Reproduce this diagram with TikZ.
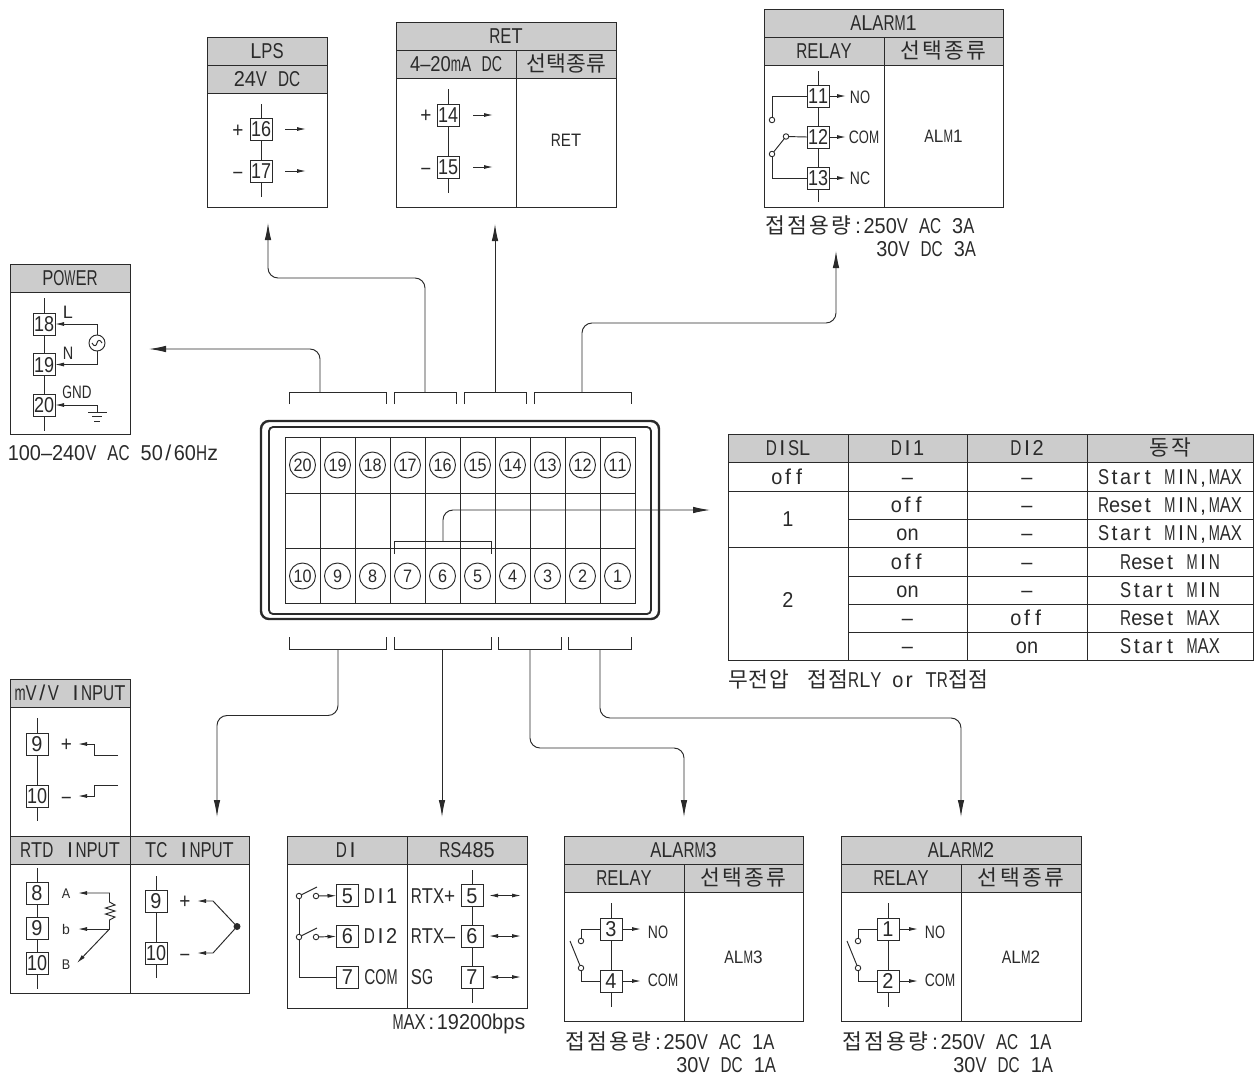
\documentclass[tikz,border=0pt]{standalone}
\usepackage{fontspec}
\usepackage{graphicx}
\usetikzlibrary{arrows.meta}
\setmainfont{Liberation Sans}
\newfontfamily\kr{Noto Sans CJK KR}
\definecolor{ink}{HTML}{2A2A2A}
\definecolor{head}{HTML}{CCCCCC}
\makeatletter
\newlength\mopitch
\newcommand\mono[2][.515]{\setlength\mopitch{#1em}\@tfor\mo@c:=#2\do{\mo@cell}}
\newcommand\mo@cell{\sbox0{\mo@c}\ifdim\wd0>\mopitch\resizebox{\mopitch}{\height}{\mo@c}\else\makebox[\mopitch][c]{\mo@c}\fi}
\newcommand\monoX[1]{\edef\mo@t{\noexpand\mono[.5]{#1}}\mo@t}
\makeatother
\newcommand\hang[2][1.03]{{\kr\mono[#1]{#2}}}
\newcommand\tnum[1]{\mono[.465]{#1}}
% \cell{style}{name}{x1}{y1}{x2}{y2}{text}
\newcommand\cell[7]{\node[#1,minimum width={((#5)-(#3))*1pt},minimum height={((#6)-(#4))*1pt}] (#2) at ({((#3)+(#5))/2},{((#4)+(#6))/2}) {#7};}
\tikzset{
 lbl/.style={inner sep=0pt,outer sep=0pt,text=ink,font=\fontsize{21.5}{24}\selectfont,text height=15.5pt,text depth=0pt},
 lbs/.style={lbl,font=\fontsize{18}{20}\selectfont,text height=13pt},
 lbt/.style={lbl,font=\fontsize{14}{16}\selectfont,text height=10pt},
 ln/.style={line width=.95pt,draw=ink},
 bodyc/.style={lbl,draw=ink,line width=.95pt,fill=white},
 bodys/.style={lbs,draw=ink,line width=.95pt,fill=white},
 hdrc/.style={bodyc,fill=head},
 term/.style={lbl,draw=ink,line width=.85pt,fill=white,minimum width=22pt,minimum height=22pt},
 sarrow/.style={ln,-{Latex[length=9pt,width=4pt]}},
 darrow/.style={ln,{Latex[length=9pt,width=4pt]}-{Latex[length=9pt,width=4pt]}},
 barrow/.style={ln,-{Latex[length=17pt,width=6.5pt]}},
 routed/.style={barrow,rounded corners=10pt},
 contact/.style={circle,draw=ink,line width=.9pt,fill=white,minimum size=5.5pt,inner sep=0pt,outer sep=0pt},
 numc/.style={lbs,circle,draw=ink,line width=.95pt,minimum size=26pt},
 brk/.style={ln},
}
\begin{document}
\begin{tikzpicture}[x=1pt,y=-1pt]
\useasboundingbox (0,0) rectangle (1257,1077);
\fill[white] (0,0) rectangle (1257,1077);

% ---------- POWER
\cell{bodyc}{pwrb}{10}{292}{130}{434}{}
\cell{hdrc}{pwrh}{10}{264}{130}{292}{\mono{POWER}}
\node[term] (p18) at (44,324) {\tnum{18}};
\node[term] (p19) at (44,364.5) {\tnum{19}};
\node[term] (p20) at (44,405) {\tnum{20}};
\coordinate (pt) at (44,298); \coordinate (pe) at (44,431);
\draw[ln] (pt) -- (p18) -- (p19) -- (p20) -- (pe);
\node[circle,draw=ink,line width=.95pt,minimum size=16pt,inner sep=0pt] (ac) at (97,343) {};
\draw[ln] ([xshift=-5pt]ac.center) .. controls ([xshift=-3pt,yshift=-4pt]ac.center) and ([xshift=-.5pt,yshift=-3pt]ac.center) .. (ac.center) .. controls ([xshift=.5pt,yshift=3pt]ac.center) and ([xshift=3pt,yshift=4pt]ac.center) .. ([xshift=5pt]ac.center);
\draw[sarrow] (ac.north) |- (p18.east);
\draw[sarrow] (ac.south) |- (p19.east);
\coordinate (gnd) at (97,412);
\draw[sarrow] (gnd) |- (p20.east);
\draw[ln] (88,412) -- (107,412) (92,416.5) -- (102,416.5) (94,421) -- (100,421);
\node[lbs] (lL) at (68,312) {\mono[.58]{L}};
\node[lbs] (lN) at (68,353) {\mono[.58]{N}};
\node[lbs] (lG) at (77,392) {\mono[.54]{GND}};
\node[lbl] (pwrv) at (113,453) {\mono{100–240V~AC~50/60Hz}};

% ---------- LPS
\cell{bodyc}{lpsb}{207}{93}{327}{207}{}
\cell{hdrc}{lpsh}{207}{37}{327}{65}{\mono{LPS}}
\cell{hdrc}{lpsh2}{207}{65}{327}{93}{\mono{24V~DC}}
\node[term] (l16) at (261,129) {\tnum{16}};
\node[term] (l17) at (261,171) {\tnum{17}};
\coordinate (lt) at (261,104); \coordinate (le) at (261,197);
\draw[ln] (lt) -- (l16) -- (l17) -- (le);
\node[lbl] (lp) at (238,130) {\mono{+}};
\node[lbl] (lm) at (238,171) {\mono[.42]{–}};
\draw[sarrow] ([xshift=13pt]l16.east) -- ++(21,0);
\draw[sarrow] ([xshift=13pt]l17.east) -- ++(21,0);

% ---------- RET
\cell{bodyc}{retb1}{396}{78}{516}{207}{}
\cell{bodys}{retb2}{516}{78}{616}{207}{\raisebox{2.5pt}{\mono[.56]{RET}}}
\cell{hdrc}{reth}{396}{22}{616}{50}{\mono{RET}}
\cell{hdrc}{reth1}{396}{50}{516}{78}{\mono[.475]{4–20mA~DC}}
\cell{hdrc}{reth2}{516}{50}{616}{78}{\hang[.93]{선택종류}}
\node[term] (r14) at (448,115) {\tnum{14}};
\node[term] (r15) at (448,167) {\tnum{15}};
\coordinate (rt) at (448,89); \coordinate (re) at (448,193);
\draw[ln] (rt) -- (r14) -- (r15) -- (re);
\node[lbl] (rp) at (426,115) {\mono{+}};
\node[lbl] (rm) at (426,167) {\mono[.42]{–}};
\draw[sarrow] ([xshift=14pt]r14.east) -- ++(20,0);
\draw[sarrow] ([xshift=14pt]r15.east) -- ++(20,0);

% ---------- ALARM1
\cell{bodyc}{a1b1}{764}{65}{884}{207}{}
\cell{bodys}{a1b2}{884}{65}{1003}{207}{\mono[.53]{ALM1}}
\cell{hdrc}{a1h}{764}{9}{1003}{37}{\mono{ALARM1}}
\cell{hdrc}{a1h1}{764}{37}{884}{65}{\mono{RELAY}}
\cell{hdrc}{a1h2}{884}{37}{1003}{65}{\hang{선택종류}}
\node[term] (a11) at (818,96) {\tnum{11}};
\node[term] (a12) at (818,137) {\tnum{12}};
\node[term] (a13) at (818,178) {\tnum{13}};
\coordinate (a1t) at (818,71); \coordinate (a1e) at (818,202);
\draw[ln] (a1t) -- (a11) -- (a12) -- (a13) -- (a1e);
\node[contact] (a1k1) at (772,120) {};
\node[contact] (a1k2) at (786,136.5) {};
\node[contact] (a1k3) at (772,154) {};
\draw[ln] (a11.west) -| (a1k1.north);
\draw[ln] (a1k2) -- (a12.west);
\draw[ln] (a1k2) -- (a1k3);
\draw[ln] (a1k3.south) |- (a13.west);
\draw[sarrow] (a11.east) -- ++(17,0);
\draw[sarrow] (a12.east) -- ++(17,0);
\draw[sarrow] (a13.east) -- ++(17,0);
\node[lbs] (a1no) at (860,97) {\mono[.56]{NO}};
\node[lbs] (a1com) at (864,137) {\mono[.56]{COM}};
\node[lbs] (a1nc) at (860,178) {\mono[.56]{NC}};
\node[lbl,anchor=west] (a1c1) at (764,226) {\hang{접점용량}\mono{:250V~AC~3A}};
\node[lbl,anchor=east] (a1c2) at (976,249) {\mono{30V~DC~3A}};

% ---------- device
\draw[ln,line width=2.4pt,rounded corners=8pt] (261,421) rectangle (659,619);
\draw[ln,line width=1.8pt,rounded corners=4pt] (269,427) rectangle (651,614);
\draw[ln,fill=white] (285,437) rectangle (635,603);
\draw[ln] (285,493) -- (635,493) (285,548) -- (635,548);
\foreach \i in {1,...,9} {\draw[ln] ({285+35*\i},437) -- ({285+35*\i},603);}
\foreach \i in {0,...,9} {
  \pgfmathtruncatemacro\ntop{20-\i}
  \pgfmathtruncatemacro\nbot{10-\i}
  \node[numc] (ct\ntop) at ({302.5+35*\i},465) {\monoX{\ntop}};
  \node[numc] (cb\nbot) at ({302.5+35*\i},576) {\monoX{\nbot}};
}

% brackets
\coordinate (s1) at (320,392); \coordinate (s2) at (425,392);
\coordinate (s3) at (495,392); \coordinate (s4) at (582,392);
\coordinate (u1) at (338,649); \coordinate (u2) at (442,649);
\coordinate (u3) at (530,649); \coordinate (u4) at (600,649);
\coordinate (mid) at (443,541);
\draw[brk] (289,404) |- (386,392) -- (386,404);
\draw[brk] (394,404) |- (456,392) -- (456,404);
\draw[brk] (464,404) |- (526,392) -- (526,404);
\draw[brk] (534,404) |- (631,392) -- (631,404);
\draw[brk] (289,637) |- (386,649) -- (386,637);
\draw[brk] (394,637) |- (491,649) -- (491,637);
\draw[brk] (498,637) |- (561,649) -- (561,637);
\draw[brk] (568,637) |- (631,649) -- (631,637);
\draw[brk] (394,554) |- (491,541) -- (491,554);

% routed connectors
\coordinate (toPwr) at (149,349);
\coordinate (toLps) at (268,223);
\coordinate (toRet) at (495,224);
\coordinate (toA1) at (836,251);
\coordinate (toTab) at (710,510);
\coordinate (toTC) at (217,817);
\coordinate (toDI) at (442,817);
\coordinate (toA3) at (684,817);
\coordinate (toA2) at (961,817);
\draw[routed] (s1) |- (toPwr);
\draw[routed] (s2) -- (425,278) -- (268,278) -- (toLps);
\draw[barrow] (s3) -- (toRet);
\draw[routed] (s4) -- (582,323) -- (836,323) -- (toA1);
\draw[routed] (mid) |- (toTab);
\draw[routed] (u1) -- (338,715.5) -- (217,715.5) -- (toTC);
\draw[barrow] (u2) -- (toDI);
\draw[routed] (u3) -- (530,748) -- (684,748) -- (toA3);
\draw[routed] (u4) -- (600,718) -- (961,718) -- (toA2);

% ---------- table
\cell{hdrc}{th1}{728}{434}{848}{462}{\mono{DISL}}
\cell{hdrc}{th2}{848}{434}{967}{462}{\mono{DI1}}
\cell{hdrc}{th3}{967}{434}{1087}{462}{\mono{DI2}}
\cell{hdrc}{th4}{1087}{434}{1253}{462}{\hang{동작}}
\cell{bodyc}{r1a}{728}{462}{848}{491}{\mono{off}}
\cell{bodyc}{r1b}{848}{462}{967}{491}{\mono{–}}
\cell{bodyc}{r1c}{967}{462}{1087}{491}{\mono{–}}
\cell{bodyc}{r1d}{1087}{462}{1253}{491}{\mono{Start~MIN,MAX}}
\cell{bodyc}{r2a}{728}{491}{848}{547}{\mono{1}}
\cell{bodyc}{r2b}{848}{491}{967}{519}{\mono{off}}
\cell{bodyc}{r2c}{967}{491}{1087}{519}{\mono{–}}
\cell{bodyc}{r2d}{1087}{491}{1253}{519}{\mono{Reset~MIN,MAX}}
\cell{bodyc}{r3b}{848}{519}{967}{547}{\mono{on}}
\cell{bodyc}{r3c}{967}{519}{1087}{547}{\mono{–}}
\cell{bodyc}{r3d}{1087}{519}{1253}{547}{\mono{Start~MIN,MAX}}
\cell{bodyc}{r4a}{728}{547}{848}{660}{\raisebox{3.5pt}{\mono{2}}}
\cell{bodyc}{r4b}{848}{547}{967}{576}{\mono{off}}
\cell{bodyc}{r4c}{967}{547}{1087}{576}{\mono{–}}
\cell{bodyc}{r4d}{1087}{547}{1253}{576}{\mono{Reset~MIN}}
\cell{bodyc}{r5b}{848}{576}{967}{604}{\mono{on}}
\cell{bodyc}{r5c}{967}{576}{1087}{604}{\mono{–}}
\cell{bodyc}{r5d}{1087}{576}{1253}{604}{\mono{Start~MIN}}
\cell{bodyc}{r6b}{848}{604}{967}{632}{\mono{–}}
\cell{bodyc}{r6c}{967}{604}{1087}{632}{\mono{off}}
\cell{bodyc}{r6d}{1087}{604}{1253}{632}{\mono{Reset~MAX}}
\cell{bodyc}{r7b}{848}{632}{967}{660}{\mono{–}}
\cell{bodyc}{r7c}{967}{632}{1087}{660}{\mono{on}}
\cell{bodyc}{r7d}{1087}{632}{1253}{660}{\mono{Start~MAX}}
\node[lbl,anchor=west] (tcap) at (728,680) {\hang[.95]{무전압}\mono[.42]{~~}\hang[.95]{접점}\mono{RLY~or~TR}\hang[.95]{접점}};

% ---------- mV/V
\cell{bodyc}{mvb}{10}{707}{130}{836}{}
\cell{hdrc}{mvh}{10}{679}{130}{707}{\mono{mV/V~INPUT}}
\node[term] (m9) at (37,744) {\mono{9}};
\node[term] (m10) at (37,796) {\tnum{10}};
\coordinate (mt) at (37,718); \coordinate (me) at (37,821);
\draw[ln] (mt) -- (m9) -- (m10) -- (me);
\node[lbl] (mp) at (66.5,744) {\mono{+}};
\node[lbl] (mm) at (66.5,796) {\mono[.42]{–}};
\coordinate (mw1) at (118,755); \coordinate (mw2) at (118,785);
\coordinate (mh1) at (78,744); \coordinate (mh2) at (78,796);
\draw[sarrow] (mw1) -- (94,755) -- (94,744) -- (mh1);
\draw[sarrow] (mw2) -- (94,785) -- (94,796) -- (mh2);

% ---------- RTD
\cell{bodyc}{rtdb}{10}{864}{130}{993}{}
\cell{hdrc}{rtdh}{10}{836}{130}{864}{\mono{RTD~INPUT}}
\node[term] (d8) at (37,893) {\mono{8}};
\node[term] (d9) at (37,928) {\mono{9}};
\node[term] (d10) at (37,963) {\tnum{10}};
\coordinate (dt) at (37,868); \coordinate (de) at (37,989);
\draw[ln] (dt) -- (d8) -- (d9) -- (d10) -- (de);
\node[lbt] (dA) at (66,893) {\mono[.6]{A}};
\node[lbt] (db) at (66,929) {\mono[.6]{b}};
\node[lbt] (dB) at (66,964) {\mono[.6]{B}};
\coordinate (dj) at (109.5,929);
\coordinate (dhA) at (78,893); \coordinate (dhb) at (78,929); \coordinate (dhB) at (77,963);
\draw[sarrow] (dj) -- (109.5,920) -- (115,917) -- (105.5,914) -- (115,911) -- (105.5,908) -- (115,905) -- (109.5,902) -- (109.5,893) -- (dhA);
\draw[sarrow] (dj) -- (dhb);
\draw[sarrow] (dj) -- (dhB);

% ---------- TC
\cell{bodyc}{tcb}{130}{864}{249}{993}{}
\cell{hdrc}{tch}{130}{836}{249}{864}{\mono{TC~INPUT}}
\node[term] (c9) at (156,901) {\mono{9}};
\node[term] (c10) at (156,953) {\tnum{10}};
\coordinate (ct) at (156,876); \coordinate (ce) at (156,978);
\draw[ln] (ct) -- (c9) -- (c10) -- (ce);
\node[lbl] (cp) at (185,901) {\mono{+}};
\node[lbl] (cm) at (185,953) {\mono[.42]{–}};
\node[circle,fill=ink,minimum size=7pt,inner sep=0pt] (cj) at (237,926.5) {};
\coordinate (chp) at (197,901); \coordinate (chm) at (197,953);
\draw[sarrow] (cj) -- (213,901) -- (chp);
\draw[sarrow] (cj) -- (213,953) -- (chm);

% ---------- DI / RS485
\cell{bodyc}{dib}{287}{864}{407}{1008}{}
\cell{bodyc}{rsb}{407}{864}{527}{1008}{}
\cell{hdrc}{dih}{287}{836}{407}{864}{\mono{DI}}
\cell{hdrc}{rsh}{407}{836}{527}{864}{\mono{RS485}}
\node[term] (i5) at (347.5,895.5) {\mono{5}};
\node[term] (i6) at (347.5,936) {\mono{6}};
\node[term] (i7) at (347.5,977) {\mono{7}};
\node[contact] (i5a) at (299,896) {};
\node[contact] (i5b) at (316,896) {};
\node[contact] (i6a) at (299,937) {};
\node[contact] (i6b) at (316,937) {};
\coordinate (i5t) at (317,887); \coordinate (i6t) at (317,928);
\draw[ln] (i5a) -- (i5t);
\draw[ln] (i6a) -- (i6t);
\draw[sarrow] (i5b) -- (i5);
\draw[sarrow] (i6b) -- (i6);
\draw[ln] (i5a) -- (i6a);
\draw[ln] (i6a.south) |- (i7.west);
\node[lbl] (iD1) at (380.5,895.5) {\mono{DI1}};
\node[lbl] (iD2) at (380.5,936) {\mono{DI2}};
\node[lbl] (iC) at (381,977) {\mono{COM}};
\node[term] (s5) at (472,895.5) {\mono{5}};
\node[term] (s6) at (472,936) {\mono{6}};
\node[term] (s7) at (472,977) {\mono{7}};
\coordinate (st) at (472,870); \coordinate (se) at (472,1003);
\draw[ln] (st) -- (s5) -- (s6) -- (s7) -- (se);
\node[lbl] (sR1) at (433,895.5) {\mono{RTX+}};
\node[lbl] (sR2) at (433,936) {\mono{RTX–}};
\node[lbl] (sSG) at (422,977) {\mono{SG}};
\draw[darrow] ([xshift=6pt]s5.east) -- ++(32,0);
\draw[darrow] ([xshift=6pt]s6.east) -- ++(32,0);
\draw[darrow] ([xshift=6pt]s7.east) -- ++(32,0);
\node[lbl] (maxb) at (459,1022) {\mono{MAX:19200bps}};

% ---------- ALARM3
\cell{bodyc}{a3b1}{564}{892}{684}{1021}{}
\cell{bodys}{a3b2}{684}{892}{803}{1021}{\mono[.53]{ALM3}}
\cell{hdrc}{a3h}{564}{836}{803}{864}{\mono{ALARM3}}
\cell{hdrc}{a3h1}{564}{864}{684}{892}{\mono{RELAY}}
\cell{hdrc}{a3h2}{684}{864}{803}{892}{\hang{선택종류}}
\node[term] (a3t3) at (611,929) {\mono{3}};
\node[term] (a3t4) at (611,981) {\mono{4}};
\coordinate (a3t) at (611,903); \coordinate (a3e) at (611,1007);
\draw[ln] (a3t) -- (a3t3) -- (a3t4) -- (a3e);
\node[contact] (a3k1) at (581,941) {};
\node[contact] (a3k2) at (581,968) {};
\coordinate (a3bl) at (570,941);
\draw[ln] (a3t3.west) -| (a3k1.north);
\draw[ln] (a3t4.west) -| (a3k2.south);
\draw[ln] (a3k2) -- (a3bl);
\draw[sarrow] (a3t3.east) -- ++(19,0);
\draw[sarrow] (a3t4.east) -- ++(19,0);
\node[lbs] (a3no) at (658,932) {\mono[.56]{NO}};
\node[lbs] (a3com) at (663,980) {\mono[.56]{COM}};
\node[lbl,anchor=west] (a3c1) at (564,1042) {\hang{접점용량}\mono{:250V~AC~1A}};
\node[lbl,anchor=east] (a3c2) at (776,1065) {\mono{30V~DC~1A}};

% ---------- ALARM2
\cell{bodyc}{a2b1}{841}{892}{961}{1021}{}
\cell{bodys}{a2b2}{961}{892}{1081}{1021}{\mono[.53]{ALM2}}
\cell{hdrc}{a2h}{841}{836}{1081}{864}{\mono{ALARM2}}
\cell{hdrc}{a2h1}{841}{864}{961}{892}{\mono{RELAY}}
\cell{hdrc}{a2h2}{961}{864}{1081}{892}{\hang{선택종류}}
\node[term] (a2t1) at (888,929) {\mono{1}};
\node[term] (a2t2) at (888,981) {\mono{2}};
\coordinate (a2t) at (888,903); \coordinate (a2e) at (888,1007);
\draw[ln] (a2t) -- (a2t1) -- (a2t2) -- (a2e);
\node[contact] (a2k1) at (858,941) {};
\node[contact] (a2k2) at (858,968) {};
\coordinate (a2bl) at (847,941);
\draw[ln] (a2t1.west) -| (a2k1.north);
\draw[ln] (a2t2.west) -| (a2k2.south);
\draw[ln] (a2k2) -- (a2bl);
\draw[sarrow] (a2t1.east) -- ++(19,0);
\draw[sarrow] (a2t2.east) -- ++(19,0);
\node[lbs] (a2no) at (935,932) {\mono[.56]{NO}};
\node[lbs] (a2com) at (940,980) {\mono[.56]{COM}};
\node[lbl,anchor=west] (a2c1) at (841,1042) {\hang{접점용량}\mono{:250V~AC~1A}};
\node[lbl,anchor=east] (a2c2) at (1053,1065) {\mono{30V~DC~1A}};
\end{tikzpicture}
\end{document}
